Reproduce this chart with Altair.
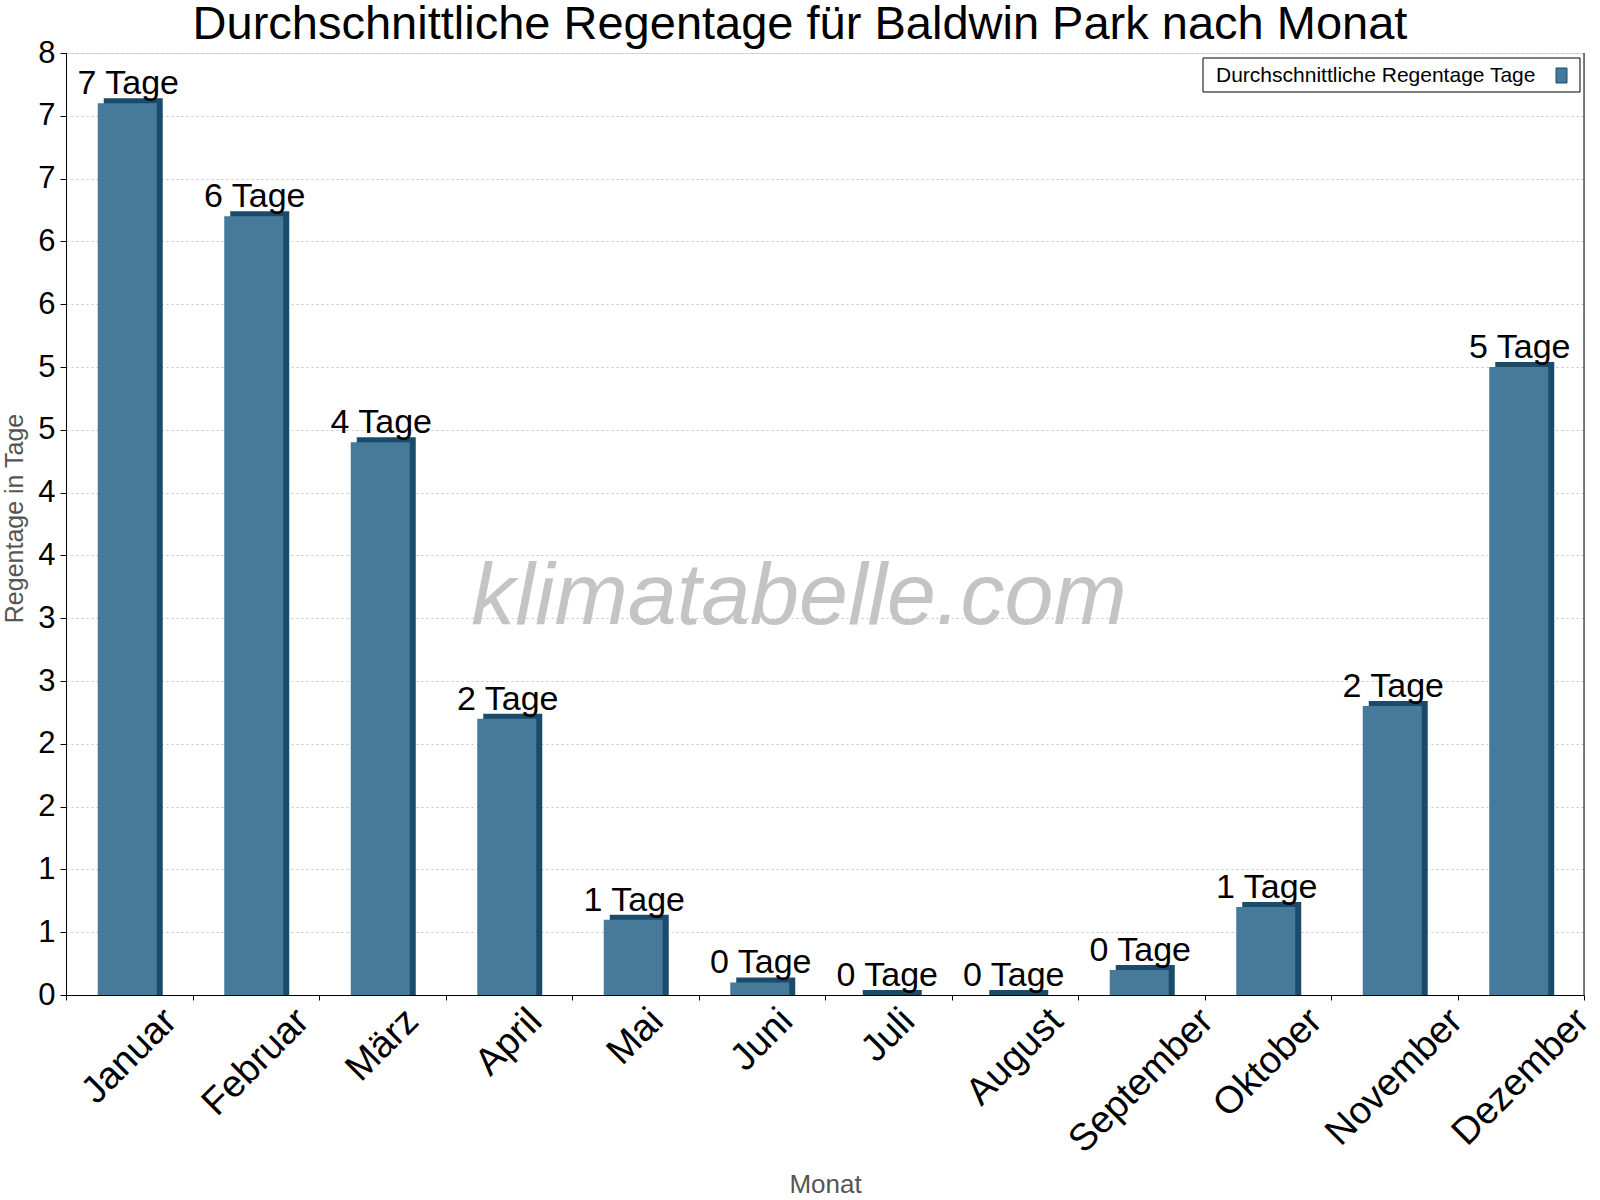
import altair as alt
import pandas as pd

# ---------------- data ----------------
monate = ["Januar", "Februar", "März", "April", "Mai", "Juni", "Juli",
          "August", "September", "Oktober", "November", "Dezember"]
regentage = [7.1, 6.2, 4.4, 2.2, 0.6, 0.1, 0.0, 0.0, 0.2, 0.7, 2.3, 5.0]
beschriftung = ["7 Tage", "6 Tage", "4 Tage", "2 Tage", "1 Tage", "0 Tage",
                "0 Tage", "0 Tage", "0 Tage", "1 Tage", "2 Tage", "5 Tage"]
y_ticks = [0, 0.5, 1, 1.5, 2, 2.5, 3, 3.5, 4, 4.5, 5, 5.5, 6, 6.5, 7, 7.5]
titel = "Durchschnittliche Regentage für Baldwin Park nach Monat"
legende = "Durchschnittliche Regentage Tage"
wasserzeichen = "klimatabelle.com"

# ---------------- style ----------------
W, H = 1518, 942
FONT = "Liberation Sans"
FRONT = "#467a9b"
SIDE = "#1a4b6b"
XFS = 38

df = pd.DataFrame({"Monat": monate, "Tage": regentage, "Label": beschriftung})

# approximate Arial advance widths (em) used to keep the rotated labels top-aligned
cw = {"J": .5, "a": .556, "n": .556, "u": .556, "r": .333, "F": .611, "e": .556,
      "b": .556, "M": .833, "ä": .556, "z": .5, "A": .667, "p": .556, "i": .222,
      "l": .222, "N": .722, "o": .556, "v": .5, "m": .833, "D": .722, "S": .667,
      "t": .278, "g": .556, "O": .778, "k": .5, "s": .5}


def text_w(s, fs):
    return sum(cw.get(c, 0.556) for c in s) * fs


conds = []
for m in monate:
    half = (text_w(m, XFS) + 0.75 * XFS) * 0.3536
    conds.append({"test": f"datum.value === '{m}'", "value": round(10 + half - 5, 1)})

x_axis = alt.Axis(
    title="Monat", titleFont=FONT, titleFontSize=26, titleColor="#555555",
    titleFontWeight="normal", titleY=197, titleBaseline="alphabetic",
    labelFont=FONT, labelFontSize=XFS, labelColor="black", labelAngle=-45,
    labelAlign="center", labelBaseline="middle",
    labelPadding={"condition": conds, "value": 50}, labelLimit=0,
    labelOverlap=False, labelBound=False, labelFlush=False,
    tickBand="extent", tickSize=5, tickColor="black", domainColor="black",
    grid=False,
)

y_axis = alt.Axis(
    title="Regentage in Tage", titleFont=FONT, titleFontSize=25,
    titleColor="#555555", titleFontWeight="normal", titleX=-44, titleY=H / 2 - 6,
    titleBaseline="alphabetic",
    values=y_ticks, labelExpr="'' + round(datum.value)",
    labelFont=FONT, labelFontSize=31, labelColor="black", labelPadding=5,
    tickSize=6, tickColor="black", domainColor="black",
    grid=True, gridColor="#c4c4c4", gridDash=[2, 3], gridWidth=1,
)

x_enc = alt.X("Monat:N", sort=monate,
              scale=alt.Scale(paddingInner=0, paddingOuter=0), axis=x_axis)
y_enc = alt.Y("Tage:Q", scale=alt.Scale(domain=[0, 7.5], nice=False, zero=True),
              axis=y_axis, stack=None)

base = alt.Chart(df)

side = base.mark_bar(color=SIDE, size=59, xOffset=4, yOffset=-5, y2Offset=0).encode(
    x=x_enc, y=y_enc)
front = base.mark_bar(color=FRONT, size=59, xOffset=-2).encode(
    x=alt.X("Monat:N", sort=monate), y=alt.Y("Tage:Q", stack=None))
labels = base.mark_text(font=FONT, fontSize=34, color="black", baseline="alphabetic",
                        dy=-9, dx=-1).encode(
    x=alt.X("Monat:N", sort=monate), y=alt.Y("Tage:Q", stack=None), text="Label:N")

wm = alt.Chart(pd.DataFrame({"t": [wasserzeichen]})).mark_text(
    font=FONT, fontSize=88, fontStyle="italic", color="#c4c4c4",
    align="center", baseline="alphabetic").encode(
    text="t:N", x=alt.value(733), y=alt.value(571))

leg_box = alt.Chart(pd.DataFrame({"t": [legende]})).mark_rect(
    fill="white", stroke="black", strokeWidth=1).encode(
    x=alt.value(1137), x2=alt.value(1514), y=alt.value(5), y2=alt.value(39))
leg_text = alt.Chart(pd.DataFrame({"t": [legende]})).mark_text(
    font=FONT, fontSize=21, color="black", align="left", baseline="alphabetic").encode(
    text="t:N", x=alt.value(1150), y=alt.value(29))
leg_sym = alt.Chart(pd.DataFrame({"t": [legende]})).mark_rect(
    fill=FRONT, stroke=SIDE, strokeWidth=1).encode(
    x=alt.value(1490), x2=alt.value(1501), y=alt.value(15), y2=alt.value(30))

right_border = alt.Chart(pd.DataFrame({"t": [0]})).mark_rule(color="black").encode(
    x=alt.value(W), y=alt.value(0), y2=alt.value(H))

chart = alt.layer(side, front, labels, wm, right_border, leg_box, leg_text, leg_sym).properties(
    width=W, height=H,
    title=alt.TitleParams(titel, font=FONT, fontSize=47, color="black",
                          fontWeight="normal", anchor="middle", dx=-25, dy=16),
    autosize=alt.AutoSizeParams(type="none"),
    padding={"left": 66, "top": 53, "right": 16, "bottom": 205},
).configure_view(stroke=None).configure(background="white")

chart.save("out.html", embed_options={"renderer": "svg", "actions": False})
